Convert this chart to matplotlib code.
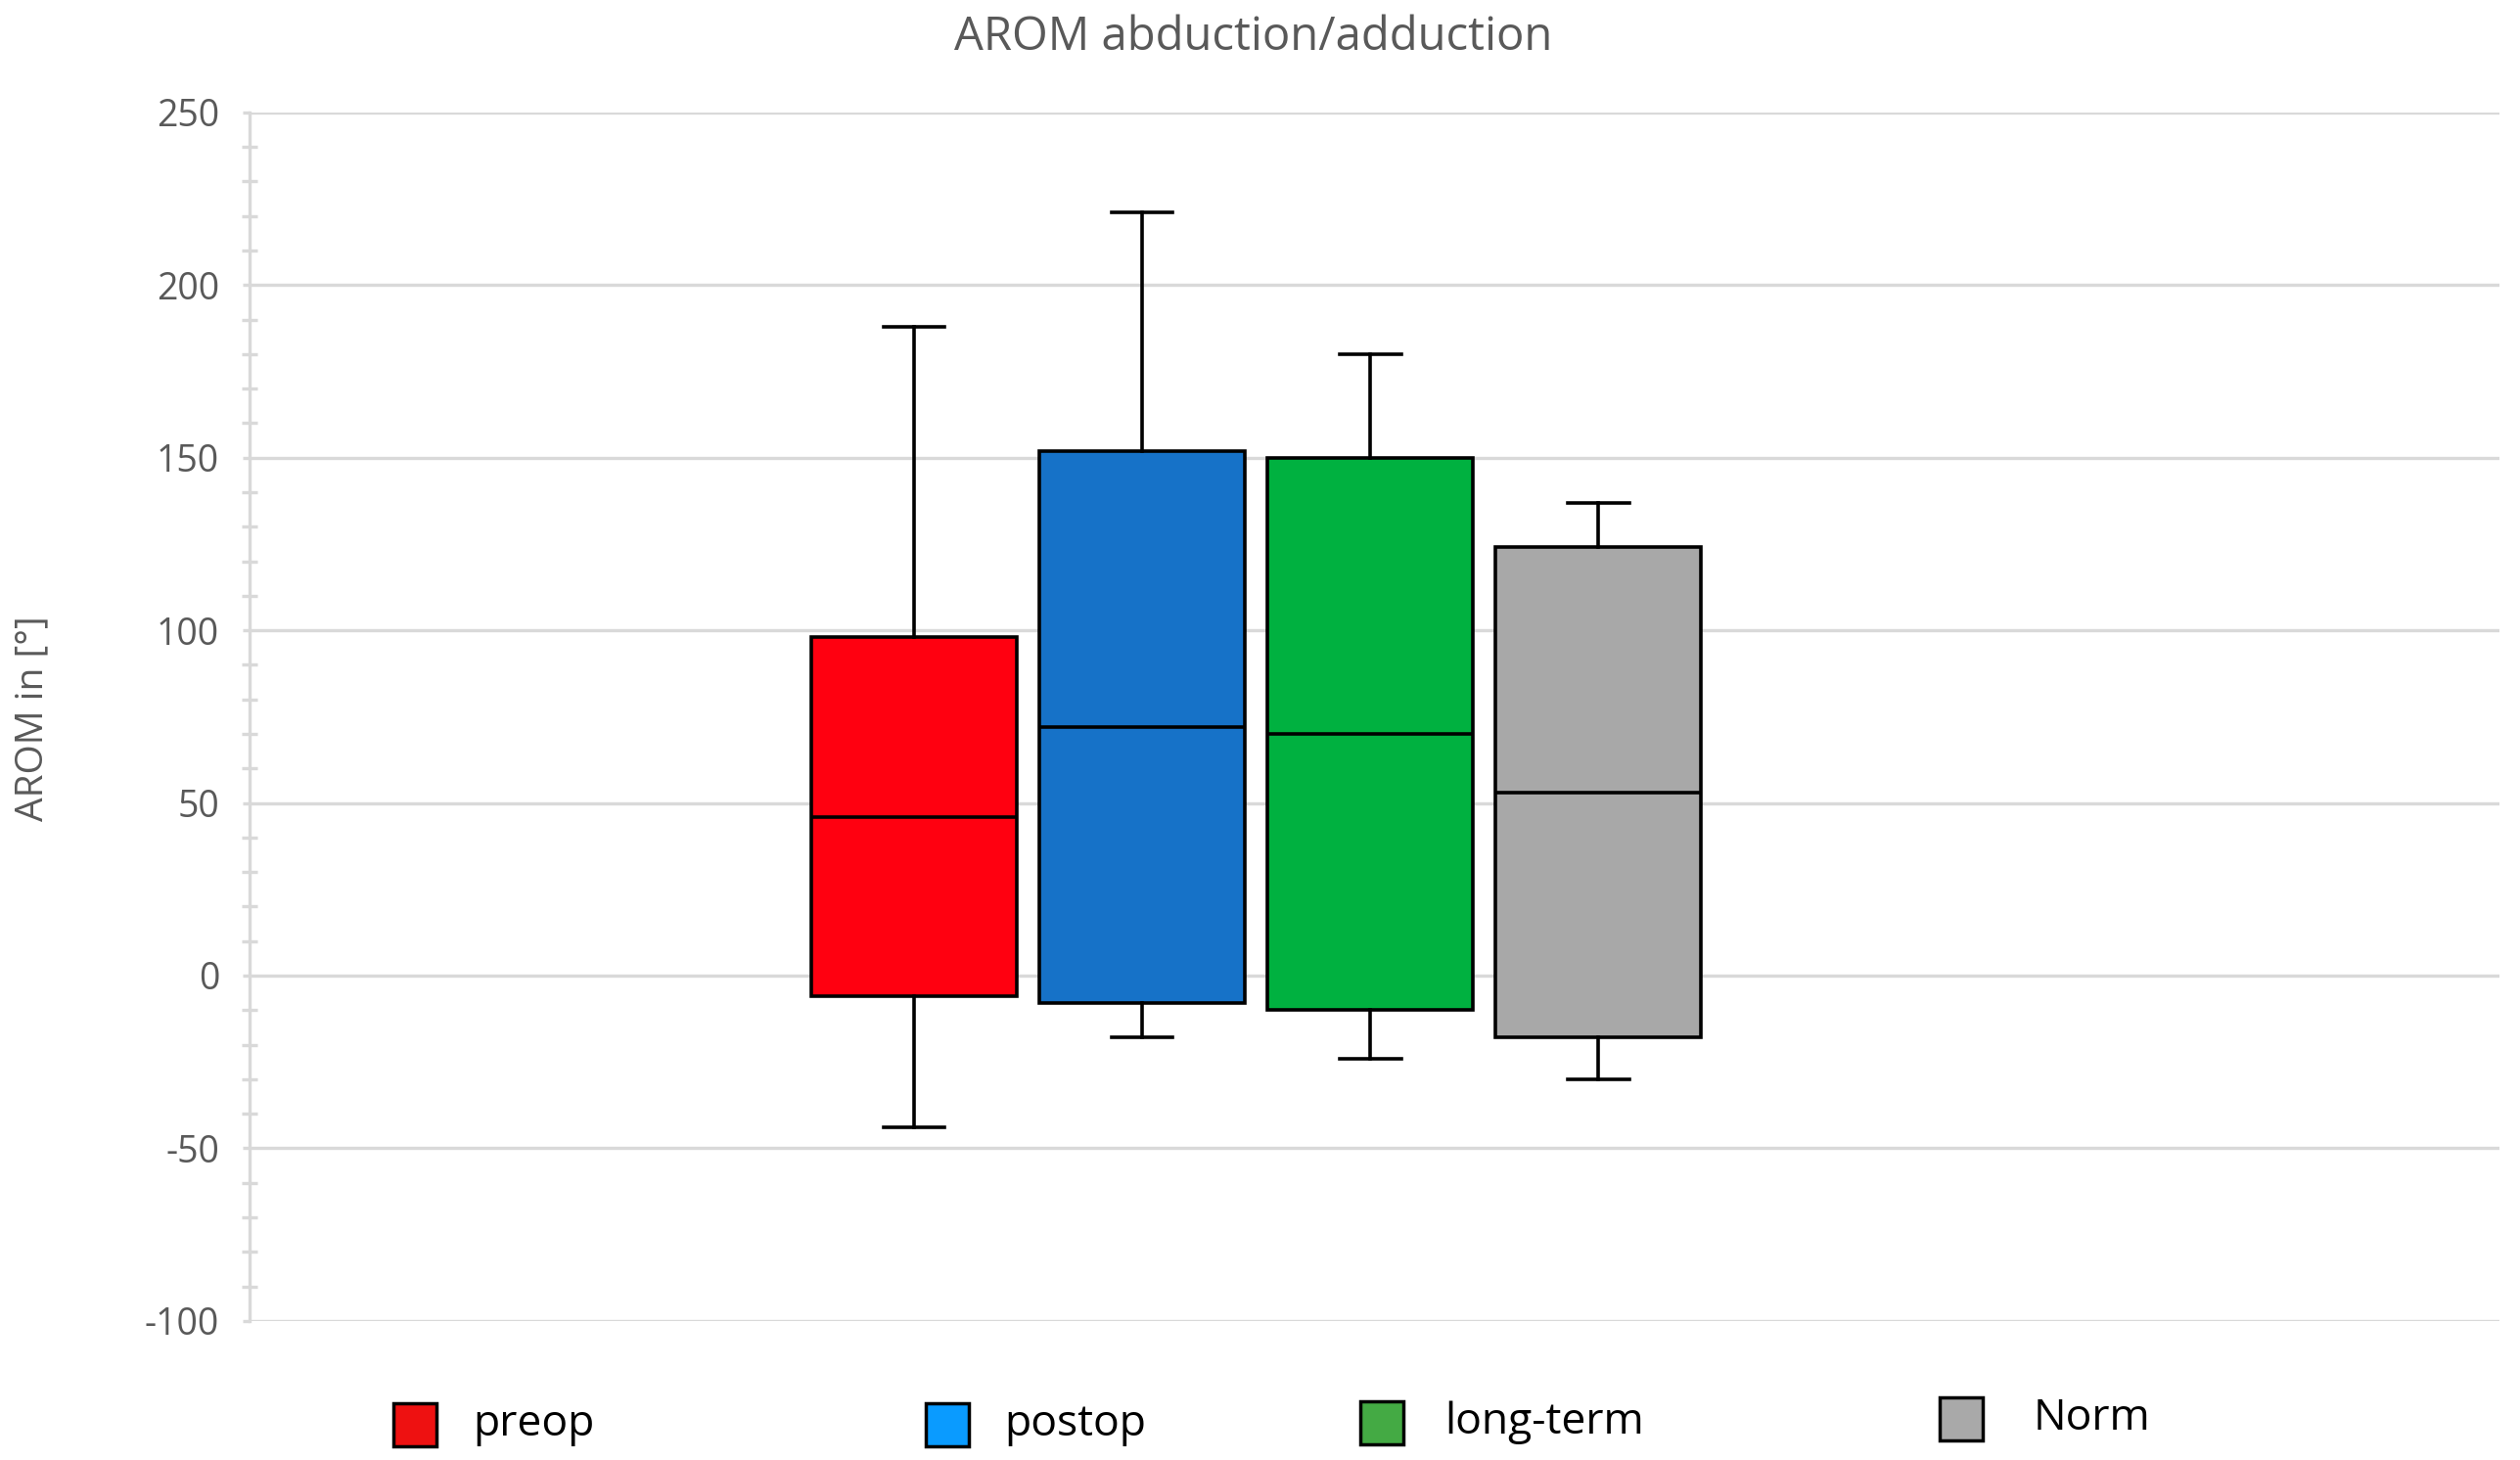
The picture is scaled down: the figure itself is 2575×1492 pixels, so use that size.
import matplotlib
matplotlib.use("Agg")
import matplotlib.pyplot as plt
import matplotlib.patches as patches
from matplotlib.ticker import MultipleLocator

# data
groups = ["preop", "postop", "long-term", "Norm"]
q1 = [-6, -8, -10, -18]
median = [46, 72, 70, 53]
q3 = [98, 152, 150, 124]
whis_lo = [-44, -18, -24, -30]
whis_hi = [188, 221, 180, 137]

box_colors = ["#FF0010", "#1672C8", "#00B140", "#A8A8A8"]
legend_colors = ["#EE1111", "#0A9BFF", "#44AA44", "#A9A9A9"]

plt.rcParams['font.family'] = ['Open Sans', 'DejaVu Sans']
plt.rcParams['axes.unicode_minus'] = False

fig = plt.figure(figsize=(25.75, 14.92), dpi=100)
fig.set_facecolor('white')
ax = fig.add_axes([0.0989, 0.0953, 0.8928, 0.8277])

stats = []
for i in range(len(groups)):
    stats.append({'label': groups[i], 'q1': q1[i], 'med': median[i], 'q3': q3[i],
                  'whislo': whis_lo[i], 'whishi': whis_hi[i]})

positions = [1, 2, 3, 4]
bp = ax.bxp(stats, positions=positions, widths=0.9, capwidths=0.27,
            patch_artist=True, showfliers=False,
            boxprops=dict(edgecolor='black', linewidth=2.6),
            medianprops=dict(color='black', linewidth=2.6),
            whiskerprops=dict(color='black', linewidth=2.6),
            capprops=dict(color='black', linewidth=2.6))
for b, c in zip(bp['boxes'], box_colors):
    b.set_facecolor(c)

ax.set_xlim(-1.915, 7.95)
ax.set_ylim(-100, 250)
ax.yaxis.set_major_locator(MultipleLocator(50))
ax.yaxis.set_minor_locator(MultipleLocator(10))
ax.set_xticks([])

# styling like the office chart
grid_c = '#D9D9D9'
ax.grid(axis='y', which='major', color=grid_c, linewidth=2.4)
ax.set_axisbelow(True)
for s in ['top', 'right', 'bottom']:
    ax.spines[s].set_visible(False)
ax.spines['left'].set_color(grid_c)
ax.spines['left'].set_linewidth(2.4)
ax.tick_params(axis='y', which='major', direction='out', length=5, width=2.4,
               color=grid_c, labelsize=27, labelcolor='#595959', pad=17)
ax.tick_params(axis='y', which='minor', direction='inout', length=11, width=2.4,
               color=grid_c)

fig.text(0.4975, 0.9745, "AROM abduction/adduction", ha='center', va='center',
         fontsize=34, color='#595959')
fig.text(0.0128, 0.508, "AROM in [°]", ha='center', va='center', rotation=90,
         fontsize=28, color='#595959')

# legend drawn by hand, entries are spaced unevenly
W, H = 2575.0, 1492.0
patch_x = [402, 946, 1390, 1982]
patch_y = [1456, 1456, 1454, 1450]
text_x = [483, 1026, 1476, 2078]
for i in range(len(groups)):
    r = patches.Rectangle((patch_x[i] / W, 1 - (patch_y[i] + 22) / H), 44 / W, 44 / H,
                          transform=fig.transFigure, facecolor=legend_colors[i],
                          edgecolor='black', linewidth=2.5)
    fig.patches.append(r)
    fig.text(text_x[i] / W, 1 - patch_y[i] / H, groups[i], ha='left', va='center',
             fontsize=32, color='black')

fig.savefig('out.png', dpi=100, facecolor='white')
